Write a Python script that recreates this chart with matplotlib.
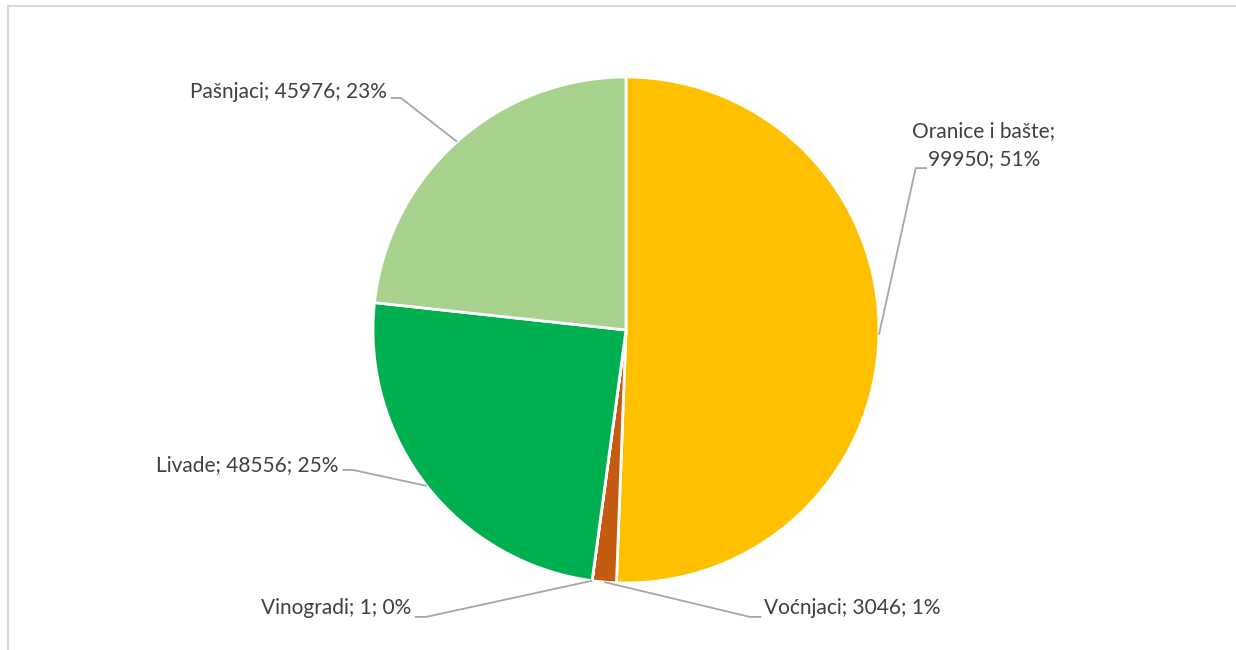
import numpy as np
import matplotlib.pyplot as plt
from matplotlib.patches import Rectangle

plt.rcParams['font.family'] = ['Lato', 'DejaVu Sans']

categories = ['Oranice i bašte', 'Voćnjaci', 'Vinogradi', 'Livade', 'Pašnjaci']
values = [99950, 3046, 1, 48556, 45976]
percents = [51, 1, 0, 25, 23]
colors = ['#FFC000', '#C55A11', '#7F7F7F', '#00B050', '#A9D18E']

# label anchor positions (axes units, pie radius = 1)
label_pos = {
    'Oranice i bašte': (1.415, 0.73),
    'Voćnjaci': (0.545, -1.10),
    'Vinogradi': (-0.85, -1.10),
    'Livade': (-1.135, -0.535),
    'Pašnjaci': (-0.945, 0.94),
}
elbow = {
    'Oranice i bašte': [(1.145, 0.64), (1.19, 0.64)],
    'Voćnjaci': [(0.49, -1.134), (0.535, -1.134)],
    'Vinogradi': [(-0.79, -1.134), (-0.835, -1.134)],
    'Livade': [(-1.08, -0.553), (-1.12, -0.553)],
    'Pašnjaci': [(-0.89, 0.917), (-0.93, 0.917)],
}
align = {
    'Oranice i bašte': 'center',
    'Voćnjaci': 'left',
    'Vinogradi': 'right',
    'Livade': 'right',
    'Pašnjaci': 'right',
}

W, H = 1236, 650
fig = plt.figure(figsize=(W / 100, H / 100), dpi=100)
fig.patches.append(Rectangle((8 / W, -0.1), 1.2, (650 - 6) / H + 0.1,
                             transform=fig.transFigure, fill=False,
                             edgecolor='#D9D9D9', linewidth=1.5))

cx, cy, r = 626, 330, 253
ax = fig.add_axes([(cx - r) / W, (H - cy - r) / H, 2 * r / W, 2 * r / H])
wedges, _ = ax.pie(values, colors=colors, startangle=90, counterclock=False,
                   wedgeprops=dict(edgecolor='white', linewidth=2))
ax.set_xlim(-1, 1)
ax.set_ylim(-1, 1)
ax.axis('off')

for w, name, v, pct in zip(wedges, categories, values, percents):
    mid = np.deg2rad((w.theta1 + w.theta2) / 2)
    p0 = (np.cos(mid), np.sin(mid))
    (ex, ey), (tx, ty) = elbow[name]
    ax.plot([p0[0], ex, tx], [p0[1], ey, ty], color='#A6A6A6', lw=1.3,
            clip_on=False, solid_capstyle='butt')
    if name == 'Oranice i bašte':
        txt = f'{name};\n{v}; {pct}%'
    else:
        txt = f'{name}; {v}; {pct}%'
    lx, ly = label_pos[name]
    ax.text(lx, ly, txt, ha=align[name], va='center', fontsize=15,
            color='#404040', linespacing=1.5, multialignment='center')

fig.savefig('out.png', dpi=100)
